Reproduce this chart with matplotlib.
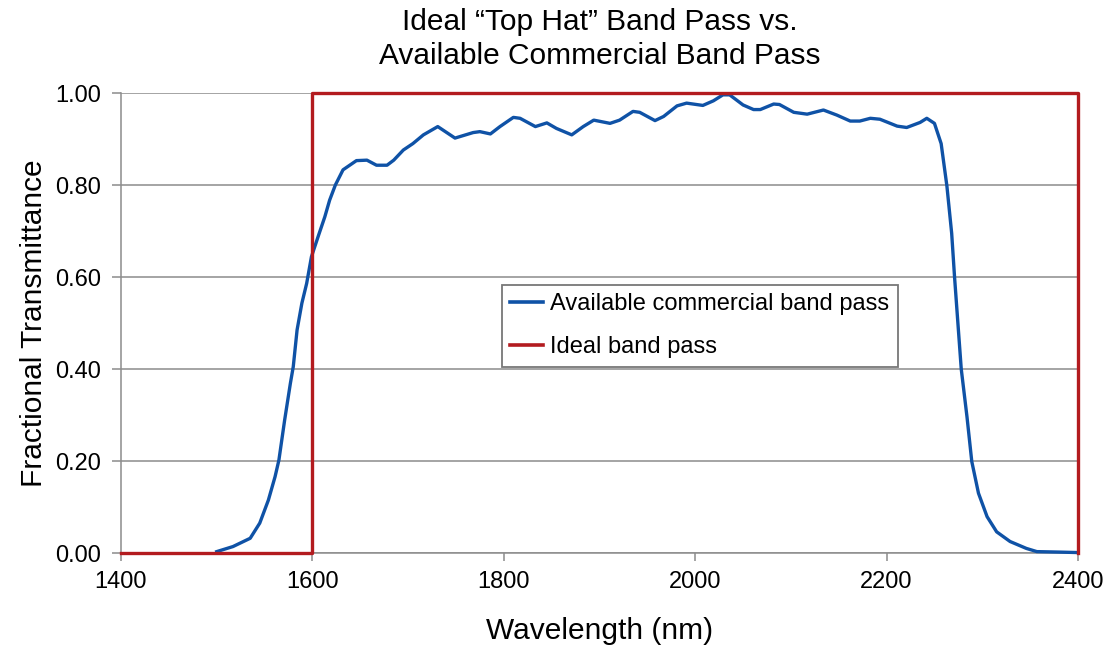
import matplotlib
matplotlib.use("Agg")
import matplotlib.pyplot as plt

plt.rcParams['font.family'] = ['Liberation Sans', 'DejaVu Sans']

# Commercial band pass
wavelength = [1500, 1517, 1535, 1545, 1554, 1561, 1565, 1571, 1577, 1580, 1584, 1589,
              1594, 1599, 1606, 1613, 1618, 1624, 1632, 1646, 1657, 1667, 1678, 1685,
              1695, 1705, 1716, 1731, 1749, 1768, 1775, 1786, 1796, 1810, 1817, 1833,
              1845, 1855, 1871, 1883, 1894, 1911, 1921, 1935, 1942, 1958, 1967, 1981,
              1991, 2008, 2019, 2029, 2036, 2050, 2061, 2068, 2082, 2088, 2103, 2110,
              2117, 2134, 2148, 2162, 2172, 2183, 2193, 2211, 2221, 2235, 2242, 2250,
              2257, 2263, 2268, 2271, 2274, 2278, 2284, 2289, 2296, 2305, 2315, 2329,
              2346, 2357, 2380, 2399]
transmittance = [0.003, 0.014, 0.032, 0.065, 0.115, 0.166, 0.202, 0.289, 0.369, 0.405, 0.485, 0.543,
                 0.586, 0.644, 0.688, 0.731, 0.767, 0.80, 0.833, 0.853, 0.854, 0.843, 0.843, 0.854,
                 0.876, 0.89, 0.909, 0.927, 0.902, 0.914, 0.916, 0.911, 0.927, 0.947, 0.945, 0.927,
                 0.935, 0.923, 0.909, 0.927, 0.941, 0.934, 0.941, 0.960, 0.958, 0.940, 0.949, 0.972,
                 0.978, 0.973, 0.983, 0.996, 0.996, 0.974, 0.964, 0.964, 0.976, 0.975, 0.958, 0.956,
                 0.954, 0.963, 0.952, 0.939, 0.939, 0.945, 0.943, 0.928, 0.925, 0.936, 0.945, 0.934,
                 0.89, 0.798, 0.695, 0.60, 0.514, 0.40, 0.296, 0.199, 0.13, 0.079, 0.046, 0.025,
                 0.010, 0.003, 0.002, 0.001]

# Ideal band pass
ideal_x = [1400, 1600, 1600, 2400, 2400]
ideal_y = [0.0, 0.0, 1.0, 1.0, 0.0]

x_ticks = [1400, 1600, 1800, 2000, 2200, 2400]
y_ticks = [0.0, 0.2, 0.4, 0.6, 0.8, 1.0]
y_tick_labels = ['0.00', '0.20', '0.40', '0.60', '0.80', '1.00']

blue = '#0f52a6'
red = '#b31b1f'
grid_gray = '#8c8c8c'

fig = plt.figure(figsize=(11.15, 6.46), dpi=100)
ax = fig.add_axes([121/1115, 1-553/646, (1078-121)/1115, (553-93)/646])

ax.set_xlim(1400, 2400)
ax.set_ylim(0, 1)
ax.set_xticks(x_ticks)
ax.set_yticks(y_ticks)
ax.set_yticklabels(y_tick_labels)
ax.grid(axis='y', color=grid_gray, lw=1.1)
ax.set_axisbelow(True)
for s in ['top', 'right']:
    ax.spines[s].set_visible(False)
for s in ['left', 'bottom']:
    ax.spines[s].set_color(grid_gray)
    ax.spines[s].set_linewidth(1.1)
ax.tick_params(axis='both', direction='out', color=grid_gray, width=1.1, labelsize=17)
ax.tick_params(axis='x', length=6, pad=7)
ax.tick_params(axis='y', length=6.5, pad=8)

ax.plot(wavelength, transmittance, color=blue, lw=2.4, label='Available commercial band pass',
        clip_on=False, zorder=3)
ax.plot(ideal_x, ideal_y, color=red, lw=2.4, label='Ideal band pass', clip_on=False, zorder=4)

ax.set_xlabel('Wavelength (nm)', fontsize=21.5, labelpad=17)
ax.set_ylabel('Fractional Transmittance', fontsize=21.5, labelpad=5)
ax.set_title('Ideal \u201cTop Hat\u201d Band Pass vs.\nAvailable Commercial Band Pass',
             fontsize=21.5, pad=21, linespacing=1.27)

leg = ax.legend(loc='upper left', bbox_to_anchor=(0.398, 0.583), borderaxespad=0,
                fontsize=17, frameon=True, fancybox=False, handlelength=1.4,
                handletextpad=0.3, borderpad=0.35, labelspacing=0.9)
leg.get_frame().set_edgecolor('#555555')
leg.get_frame().set_linewidth(1.3)
for h in leg.get_lines():
    h.set_linewidth(2.6)

fig.savefig('out.png', dpi=100)
